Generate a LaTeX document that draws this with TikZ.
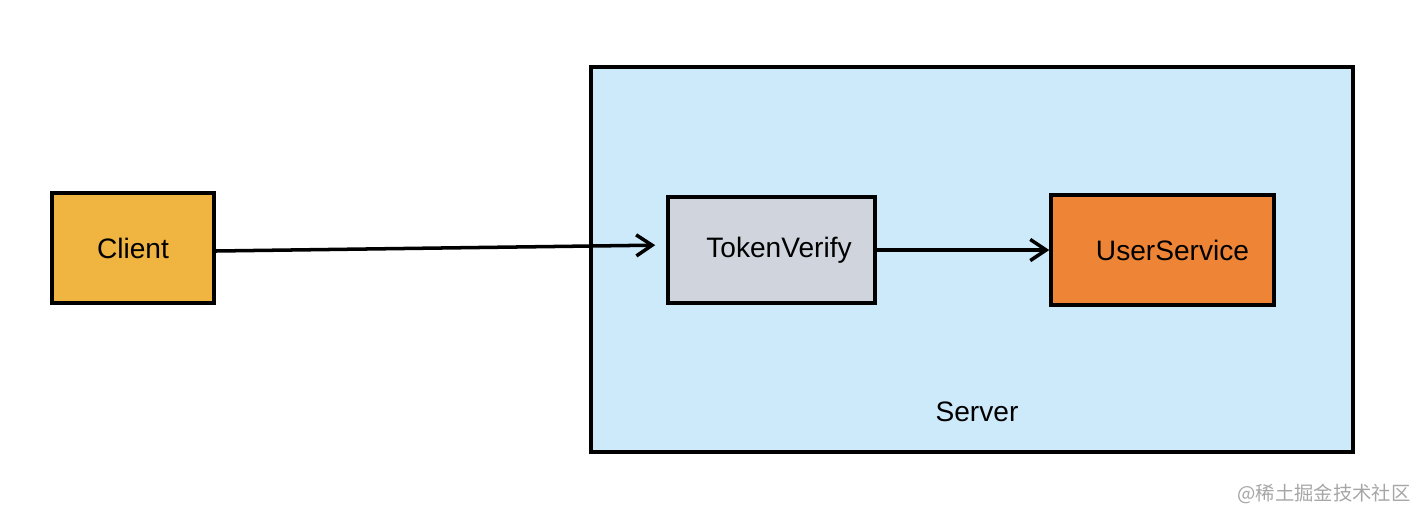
\documentclass[tikz,border=0pt]{standalone}
\usepackage{fontspec}
\setmainfont{Liberation Sans}
\newfontfamily\cjkfont{Noto Sans CJK SC}
\usepackage{xcolor}
\usetikzlibrary{positioning,arrows.meta}

\definecolor{clientfill}{RGB}{240,180,64}
\definecolor{serverfill}{RGB}{205,234,250}
\definecolor{verifyfill}{RGB}{208,213,221}
\definecolor{servicefill}{RGB}{238,133,54}

\begin{document}
\begin{tikzpicture}[
    box/.style={draw, line width=2pt, rectangle, align=center, font=\fontsize{16}{19}\selectfont},
    flow/.style={-{Straight Barb[length=9pt, width=12pt, line width=2pt]}, line width=2pt}
]

\path[use as bounding box] (0,0) rectangle (28.4,-10.44);

\node[box, fill=serverfill, minimum width=15.24cm, minimum height=7.7cm] (server) at (19.44,-5.19) {};
\node[font=\fontsize{16}{19}\selectfont] (serverlabel) at (19.54,-8.24) {Server};

\node[box, fill=clientfill, minimum width=3.24cm, minimum height=2.2cm] (client) at (2.66,-4.96) {Client};
\node[box, fill=verifyfill, minimum width=4.14cm, minimum height=2.12cm, text width=3.6cm] (verify) at (15.43,-5.0) {\hspace*{0.3cm}TokenVerify};
\node[box, fill=servicefill, minimum width=4.46cm, minimum height=2.2cm, text width=3.9cm] (service) at (23.25,-5.0) {\hspace*{0.4cm}UserService};

% request flows
\draw[flow, shorten >=0.22cm] ([yshift=-0.06cm]client.east) -- ([yshift=0.1cm]verify.west);
\draw[flow] (verify.east) -- (service.west);

\node[text=gray!70, font=\cjkfont\fontsize{11}{14}\selectfont] (mark) at (26.48,-9.88) {@稀土掘金技术社区};

\end{tikzpicture}
\end{document}
